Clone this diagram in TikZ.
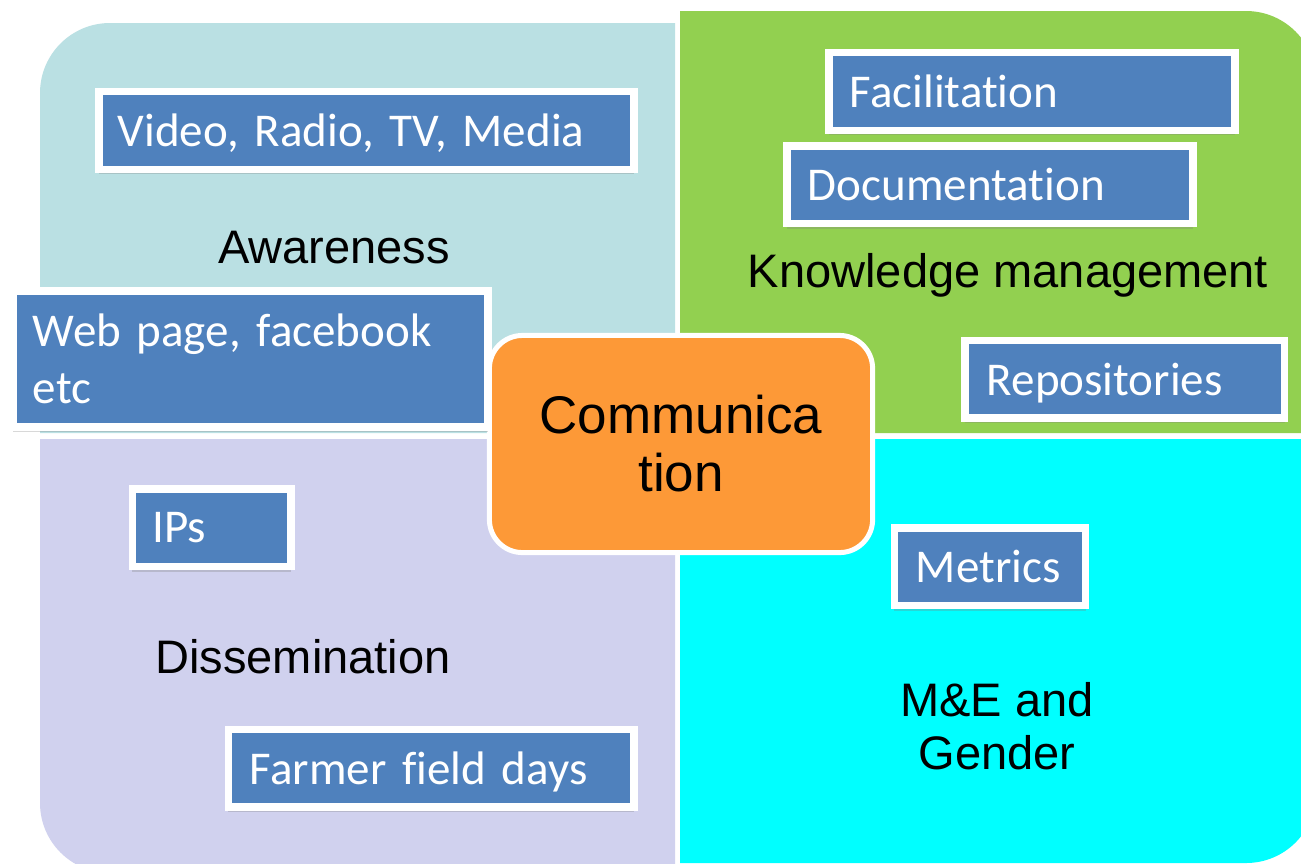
\documentclass[tikz,border=0pt]{standalone}
\usepackage{fontspec}
\setmainfont{Liberation Sans}
\newfontfamily\calibri[RawFeature={-liga,-clig,-calt,-dlig}]{Carlito}
\usetikzlibrary{shadows}
\definecolor{qtl}{RGB}{186,224,227}
\definecolor{qtr}{RGB}{146,208,80}
\definecolor{qbl}{RGB}{208,209,238}
\definecolor{qbr}{RGB}{0,255,255}
\definecolor{orng}{RGB}{253,153,55}
\definecolor{bblue}{RGB}{79,129,189}
\begin{document}
\begin{tikzpicture}[x=0.01cm,y=-0.01cm,
  bluebox/.style={fill=bblue, draw=white, line width=0.075cm, text=white,
    font=\calibri\fontsize{13.37pt}{16.2pt}\selectfont, align=left, inner ysep=0pt,
    drop shadow={shadow xshift=0pt, shadow yshift=-0.05cm, opacity=0.3}},
  onebox/.style={bluebox, text depth=0pt, minimum height=0.775cm},
  qlabel/.style={font=\fontsize{13.37pt}{14.8pt}\selectfont, text=black, align=center, inner sep=0pt}]
\useasboundingbox (0,0) rectangle (1301,863);
\clip (0,0) rectangle (1301,863);
\fill[white] (0,0) rectangle (1301,863);
% quadrants
\fill[qtl] (40,433) -- (40,93) arc[start angle=180,end angle=270,radius=70] -- (675,23) -- (675,433) -- cycle;
\fill[qtr] (680,433) -- (680,11) -- (1246,11) arc[start angle=270,end angle=360,radius=70] -- (1316,433) -- cycle;
\fill[qbr] (680,439) -- (1316,439) -- (1316,793) arc[start angle=0,end angle=90,radius=70] -- (680,863) -- cycle;
\fill[qbl] (675,439) -- (40,439) -- (40,803) arc[start angle=180,end angle=90,radius=70] -- (675,873) -- cycle;
% quadrant labels
\node[qlabel, anchor=base] (aware) at (334,263) {Awareness};
\node[qlabel, anchor=base] (km) at (1008,287) {Knowledge management};
\node[qlabel, anchor=base] (dis) at (303,673) {Dissemination};
\node[qlabel, anchor=base] (meg) at (997,769) {M\&E and\\Gender};
% centre
\node[fill=orng, draw=white, line width=0.05cm, rounded corners=0.33cm,
  minimum width=3.83cm, minimum height=2.17cm, align=center,
  font=\fontsize{15.08pt}{16.5pt}\selectfont, inner sep=0pt] (comm) at (681,444) {Communica\\tion};
% blue boxes
\node[onebox, text width=4.97cm, inner xsep=0.19cm] (video) at (366.5,130.5) {Video, Radio, TV, Media};
\node[bluebox, minimum height=1.36cm, text width=4.35cm, inner xsep=0.20cm] (web) at (250.5,359) {Web page, facebook\\etc};
\node[onebox, text width=3.64cm, inner xsep=0.21cm] (facil) at (1032,91.5) {Facilitation};
\node[onebox, text width=3.64cm, inner xsep=0.21cm] (doc) at (990,184.75) {Documentation};
\node[onebox, text width=2.755cm, inner xsep=0.22cm] (repo) at (1124.75,379.25) {Repositories};
\node[onebox, text width=1.185cm, inner xsep=0.20cm] (ips) at (211.75,527.75) {IPs};
\node[onebox, text width=3.625cm, inner xsep=0.215cm] (ffd) at (431.25,768.25) {Farmer field days};
\node[onebox, text width=1.48cm, inner xsep=0.215cm] (metrics) at (990,566.75) {Metrics};
\end{tikzpicture}
\end{document}
